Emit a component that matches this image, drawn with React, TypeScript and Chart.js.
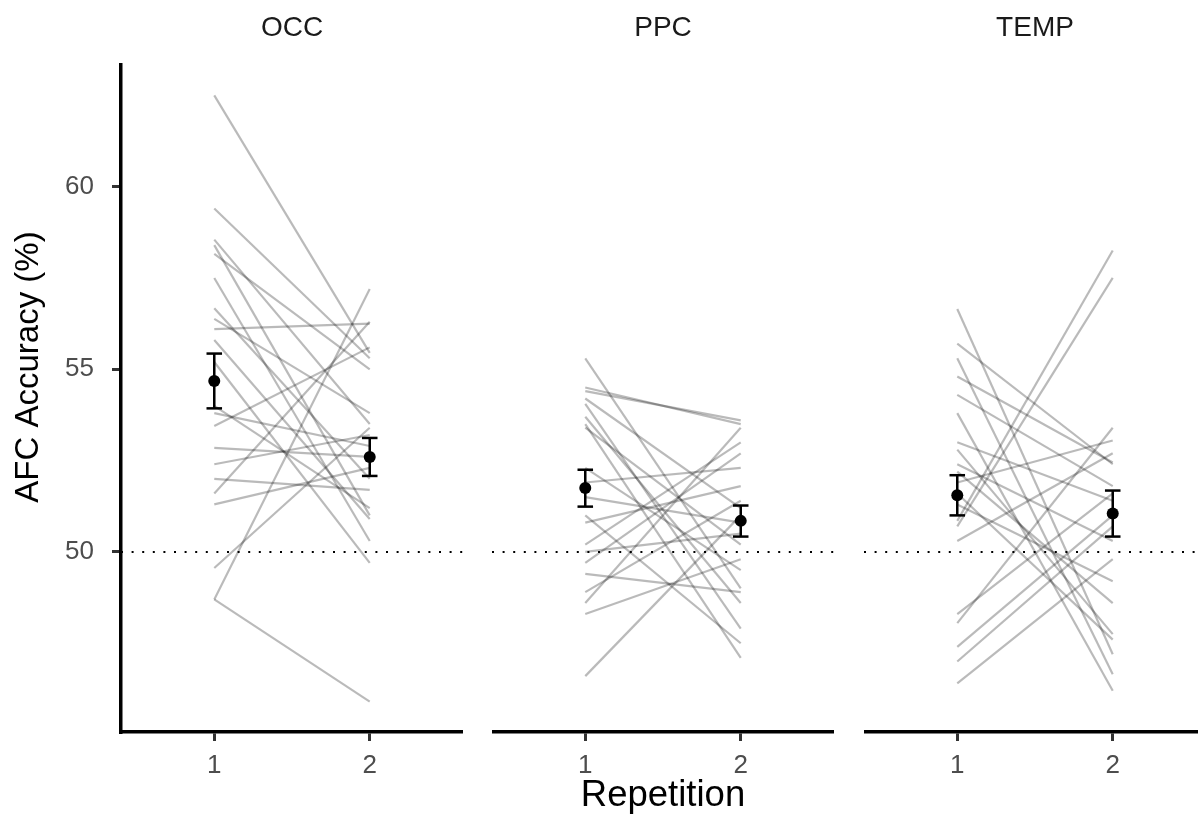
import { useEffect, useRef } from "react";
import { Chart, registerables } from "chart.js";

Chart.register(...registerables);

const FONT = '"Liberation Sans", Arial, Helvetica, sans-serif';

// Facet names and axis values
const regions = ["OCC", "PPC", "TEMP"];
const repetitions = [1, 2];
const yTicks = [50, 55, 60];
const chanceLevel = 50;
const Y_MIN = 45.07;
const Y_MAX = 63.33;
const X_MIN = 0.4;
const X_MAX = 2.6;

// Per-participant accuracy (%) at repetition 1 and 2, one array pair per region
const occRep1 = [62.5, 59.4, 58.55, 58.4, 58.16, 57.5, 56.67, 56.38, 56.1, 55.8, 55.2, 54.0, 53.8, 53.45, 52.85, 52.4, 52.0, 51.6, 51.3, 49.56, 48.7, 48.7];
const occRep2 = [55.45, 55.3, 53.5, 51.0, 55.0, 50.3, 52.0, 53.8, 56.25, 50.9, 49.7, 51.2, 52.9, 55.6, 52.6, 53.2, 51.7, 56.3, 52.3, 53.4, 57.2, 45.9];

const ppcRep1 = [55.3, 54.5, 54.4, 54.2, 54.05, 53.7, 53.5, 53.4, 52.3, 51.9, 51.5, 51.0, 50.8, 50.2, 50.0, 49.7, 49.4, 48.9, 48.6, 48.3, 46.6];
const ppcRep2 = [49.0, 53.5, 53.6, 51.2, 47.9, 48.6, 47.1, 50.2, 49.5, 52.3, 50.8, 47.5, 51.8, 53.0, 50.5, 52.7, 48.9, 51.4, 53.4, 49.8, 51.0];

const tempRep1 = [56.65, 55.7, 55.3, 54.8, 54.3, 53.8, 53.0, 52.8, 52.4, 51.9, 51.3, 50.85, 50.7, 50.3, 48.3, 48.05, 47.4, 47.0, 46.4, 52.2, 51.6];
const tempRep2 = [47.2, 52.4, 46.65, 52.45, 51.8, 46.2, 51.4, 47.75, 50.3, 53.05, 49.2, 58.25, 57.5, 52.7, 51.6, 53.4, 51.0, 50.7, 49.8, 48.6, 47.6];

// Group means with error-bar limits (rep 1, rep 2), per region
const meanRep1 = [54.68, 51.75, 51.55];
const meanRep2 = [52.6, 50.85, 51.05];
const lowRep1 = [53.93, 51.24, 51.0];
const highRep1 = [55.43, 52.25, 52.1];
const lowRep2 = [52.08, 50.42, 50.42];
const highRep2 = [53.12, 51.27, 51.68];

const rep1ByRegion = [occRep1, ppcRep1, tempRep1];
const rep2ByRegion = [occRep2, ppcRep2, tempRep2];

const CAP = 0.05;

const yTitlePlugin = {
  id: "yTitle",
  afterDraw(chart: any) {
    const ctx = chart.ctx;
    ctx.save();
    ctx.translate(29, 367);
    ctx.rotate(-Math.PI / 2);
    ctx.font = `33px ${FONT}`;
    ctx.fillStyle = "#000000";
    ctx.textAlign = "center";
    ctx.textBaseline = "middle";
    ctx.fillText("AFC Accuracy (%)", 0, 0);
    ctx.restore();
  },
};

function buildDatasets(r: number) {
  const sets: any[] = [];
  const a = rep1ByRegion[r];
  const b = rep2ByRegion[r];
  const plain = { pointRadius: 0, pointHoverRadius: 0, fill: false, tension: 0 };

  sets.push({
    ...plain,
    data: [
      { x: X_MIN, y: chanceLevel },
      { x: X_MAX, y: chanceLevel },
    ],
    borderColor: "#000000",
    borderWidth: 2,
    borderDash: [2, 8.6],
    order: 5,
  });

  for (let i = 0; i < a.length; i++) {
    sets.push({
      ...plain,
      data: [
        { x: repetitions[0], y: a[i] },
        { x: repetitions[1], y: b[i] },
      ],
      borderColor: "rgba(0,0,0,0.27)",
      borderWidth: 2.2,
      order: 3,
    });
  }

  const lows = [lowRep1[r], lowRep2[r]];
  const highs = [highRep1[r], highRep2[r]];
  const means = [meanRep1[r], meanRep2[r]];
  repetitions.forEach((rep, k) => {
    const bar = { ...plain, borderColor: "#000000", borderWidth: 2.5, order: 1 };
    sets.push({ ...bar, data: [{ x: rep, y: lows[k] }, { x: rep, y: highs[k] }] });
    sets.push({ ...bar, data: [{ x: rep - CAP, y: lows[k] }, { x: rep + CAP, y: lows[k] }] });
    sets.push({ ...bar, data: [{ x: rep - CAP, y: highs[k] }, { x: rep + CAP, y: highs[k] }] });
  });

  sets.push({
    data: repetitions.map((rep, k) => ({ x: rep, y: means[k] })),
    showLine: false,
    pointRadius: 6,
    pointHoverRadius: 6,
    pointBackgroundColor: "#000000",
    pointBorderWidth: 0,
    borderColor: "#000000",
    order: 0,
  });
  return sets;
}

function Panel({ index, left, width, showY, showXTitle }: { index: number; left: number; width: number; showY: boolean; showXTitle: boolean }) {
  const ref = useRef<HTMLCanvasElement>(null);

  useEffect(() => {
    if (!ref.current) return;
    const axisGrid = {
      display: true,
      drawOnChartArea: false,
      drawTicks: true,
      tickLength: 9,
      tickColor: "#333333",
      tickWidth: 3,
      lineWidth: 3,
      color: "#333333",
    };
    const axisBorder = { display: true, color: "#000000", width: 3.5 };
    const chart = new Chart(ref.current, {
      type: "line",
      data: { datasets: buildDatasets(index) },
      plugins: showY ? [yTitlePlugin] : [],
      options: {
        animation: false,
        responsive: false,
        devicePixelRatio: 1,
        layout: { padding: 0, autoPadding: false },
        plugins: {
          legend: { display: false },
          tooltip: { enabled: false },
          title: {
            display: true,
            text: regions[index],
            fullSize: false,
            color: "#1a1a1a",
            font: { family: FONT, size: 28, weight: "normal" },
            padding: { top: 11, bottom: 20.4 },
          },
        },
        scales: {
          x: {
            type: "linear",
            min: X_MIN,
            max: X_MAX,
            afterBuildTicks: (s: any) => {
              s.ticks = repetitions.map((v) => ({ value: v }));
            },
            afterFit: (s: any) => {
              s.height = 97;
              s.paddingLeft = 0;
              s.paddingRight = 0;
            },
            ticks: {
              color: "#4d4d4d",
              font: { family: FONT, size: 26 },
              padding: 9,
              autoSkip: false,
              maxRotation: 0,
              callback: (v: any) => String(v),
            },
            grid: axisGrid,
            border: axisBorder,
            title: {
              display: showXTitle,
              text: "Repetition",
              color: "#000000",
              font: { family: FONT, size: 36.5 },
              padding: { top: 0, bottom: 11 },
            },
          },
          y: {
            type: "linear",
            display: showY,
            min: Y_MIN,
            max: Y_MAX,
            afterBuildTicks: (s: any) => {
              s.ticks = yTicks.map((v) => ({ value: v }));
            },
            afterFit: (s: any) => {
              s.width = showY ? 121 : 0;
              s.paddingTop = 0;
              s.paddingBottom = 0;
            },
            ticks: {
              color: "#4d4d4d",
              font: { family: FONT, size: 26 },
              padding: 18,
              callback: (v: any) => String(v),
            },
            grid: axisGrid,
            border: axisBorder,
          },
        },
      } as any,
    });
    return () => chart.destroy();
  }, [index, showY, showXTitle]);

  return (
    <canvas
      ref={ref}
      width={width}
      height={829}
      style={{ position: "absolute", left, top: 0, width, height: 829 }}
    />
  );
}

export default function App() {
  return (
    <div
      style={{
        position: "fixed",
        left: 0,
        top: 0,
        width: 1198,
        height: 829,
        overflow: "hidden",
        background: "#ffffff",
      }}
    >
      <Panel index={0} left={0} width={463} showY={true} showXTitle={false} />
      <Panel index={1} left={492} width={342} showY={false} showXTitle={true} />
      <Panel index={2} left={864} width={342} showY={false} showXTitle={false} />
    </div>
  );
}
